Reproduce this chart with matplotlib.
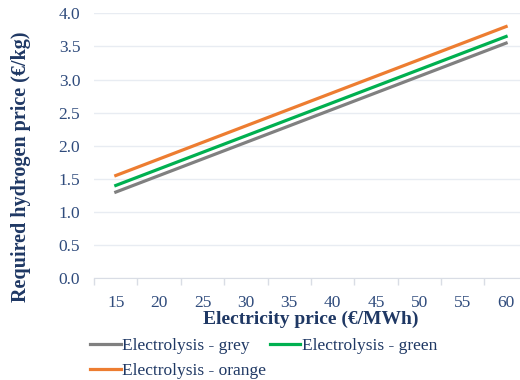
import numpy as np
import matplotlib.pyplot as plt

# electricity price categories (EUR/MWh) and required hydrogen price (EUR/kg)
prices = [15, 20, 25, 30, 35, 40, 45, 50, 55, 60]
grey = [1.30, 1.55, 1.80, 2.05, 2.30, 2.55, 2.80, 3.05, 3.30, 3.55]
green = [1.40, 1.65, 1.90, 2.15, 2.40, 2.65, 2.90, 3.15, 3.40, 3.65]
orange = [1.55, 1.80, 2.05, 2.30, 2.55, 2.80, 3.05, 3.30, 3.55, 3.80]

navy = '#1F3864'
tick_col = '#2F4B7C'
plt.rcParams['font.family'] = ['Liberation Serif', 'DejaVu Serif']

fig = plt.figure(figsize=(5.2, 3.8), dpi=100)
ax = fig.add_axes([0.181, 0.268, 0.834, 0.697])

x = np.arange(len(prices))
ax.plot(x, grey, color='#808080', lw=2.3, label='Electrolysis - grey')
ax.plot(x, green, color='#00B050', lw=2.3, label='Electrolysis - green')
ax.plot(x, orange, color='#ED7D31', lw=2.3, label='Electrolysis - orange')

ax.set_xlim(-0.5, len(prices) - 0.5)
ax.set_ylim(0, 4.0)
ax.set_yticks(np.arange(0, 4.01, 0.5))
ax.set_yticklabels(['%.1f' % v for v in np.arange(0, 4.01, 0.5)])
ax.set_xticks(x)
ax.set_xticklabels([str(p) for p in prices])
ax.set_xticks(np.arange(-0.5, len(prices)), minor=True)
ax.tick_params(axis='x', which='major', length=0, pad=12, colors=tick_col, labelsize=12.5)
ax.tick_params(axis='x', which='minor', length=5, color='#D9DDE5', width=1)
ax.tick_params(axis='y', length=0, pad=10, colors=tick_col, labelsize=12.5)

ax.grid(axis='y', color='#E8ECF2', lw=1)
ax.set_axisbelow(True)
for s in ['top', 'right', 'left']:
    ax.spines[s].set_visible(False)
ax.spines['bottom'].set_color('#D9DDE5')

ax.set_xlabel('Electricity price (€/MWh)', fontsize=14, fontweight='bold', color=navy, labelpad=0)
ax.set_ylabel('Required hydrogen price (€/kg)', fontsize=14.5, fontweight='bold', color=navy, labelpad=6)
ax.yaxis.set_label_coords(-0.145, 0.42)

# legend below the axes, row by row: grey, green / orange
h, l = ax.get_legend_handles_labels()
order = [0, 2, 1]
leg = fig.legend([h[i] for i in order], [l[i] for i in order], ncol=2,
                 loc='upper left', bbox_to_anchor=(0.16, 0.13), frameon=False,
                 fontsize=12.5, handlelength=1.75, handletextpad=0.1,
                 columnspacing=0.2, labelspacing=0.55, borderaxespad=0)
for t in leg.get_texts():
    t.set_color(navy)

fig.savefig('out.png', dpi=100)
